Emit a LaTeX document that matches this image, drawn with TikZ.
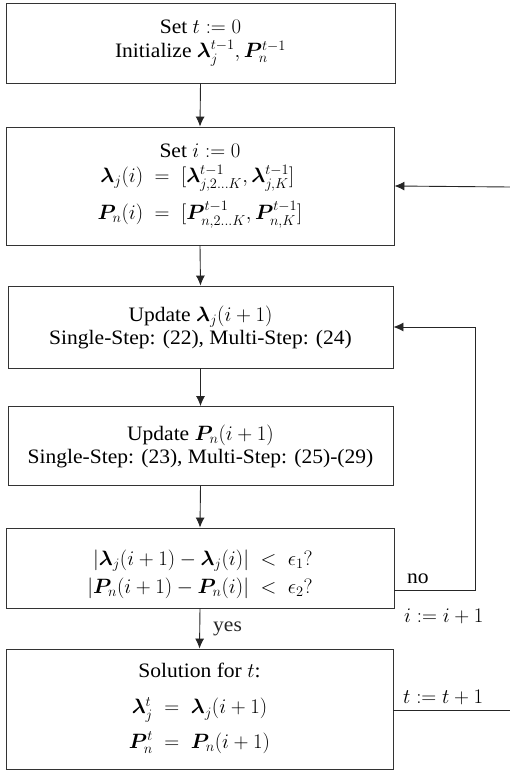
\documentclass[tikz,border=0pt]{standalone}
\usepackage{amsmath,bm}
\usepackage{fontspec}
\setmainfont{Liberation Serif}[FakeStretch=1.05]
\usetikzlibrary{arrows.meta,positioning,calc}
\tikzset{
  fc/box/.style={
    draw=black!80, line width=0.9pt, align=center, inner sep=0pt,
    font=\fontsize{20.5}{23}\selectfont
  },
  fc/arr/.style={-{Latex[length=10pt,width=9pt]}, black!85, line width=0.9pt},
  fc/line/.style={black!85, line width=0.9pt},
  fc/lbl/.style={font=\fontsize{20.5}{23}\selectfont, inner sep=1pt}
}

\begin{document}
\begin{tikzpicture}[x=1pt, y=-1pt]
  \useasboundingbox (0,0) rectangle (510,773);

  % --- Initialisierung ---
  \node[fc/box, minimum width=389pt, minimum height=80pt] (init) at (200.5,43)
    {Set $t:=0$\\[1pt] Initialize $\bm{\lambda}_j^{t-1}, \bm{P}_n^{t-1}$};
  \node[fc/box, minimum width=388pt, minimum height=118pt] (seti) at (200,186) {%
    Set $i:=0$\\[6pt]
    $\begin{array}{r@{\;\;=\;\;}l}
      \bm{\lambda}_j(i) & [\bm{\lambda}^{t-1}_{j,2\ldots K}, \bm{\lambda}^{t-1}_{j,K}]\\[12pt]
      \bm{P}_n(i) & [\bm{P}^{t-1}_{n,2\ldots K}, \bm{P}^{t-1}_{n,K}]
    \end{array}$};

  % --- Update-Schritte ---
  \node[fc/box, minimum width=385pt, minimum height=82pt] (updl) at (200.5,327)
    {Update $\bm{\lambda}_j(i+1)$\\ Single-Step: (22), Multi-Step: (24)};
  \node[fc/box, minimum width=385pt, minimum height=79pt] (updp) at (200.5,446)
    {Update $\bm{P}_n(i+1)$\\ Single-Step: (23), Multi-Step: (25)-(29)};

  % --- Konvergenz ---
  \node[fc/box, minimum width=388pt, minimum height=80pt] (conv) at (200,568) {%
    \raisebox{-7pt}[\height][\depth]{$\begin{array}{r@{\;\;<\;\;}l}
      |\bm{\lambda}_j(i+1)-\bm{\lambda}_j(i)| & \epsilon_1?\\[5pt]
      |\bm{P}_n(i+1)-\bm{P}_n(i)| & \epsilon_2?
    \end{array}$}};
  \node[fc/box, minimum width=387pt, minimum height=120pt] (sol) at (199.5,709) {%
    Solution for $t$:\\[19pt]
    $\begin{array}{r@{\;\;=\;\;}l}
      \bm{\lambda}^t_j & \bm{\lambda}_j(i+1)\\[11pt]
      \bm{P}^t_n & \bm{P}_n(i+1)
    \end{array}$};

  \coordinate (inR) at (510,187);
  \coordinate (outR) at (510,710);
  \coordinate (loopc) at (475,590);

  \draw[fc/arr] (init.south) -- (seti.north);
  \draw[fc/arr] (seti.south) -- (updl.north);
  \draw[fc/arr] (updl.south) -- (updp.north);
  \draw[fc/arr] (updp.south) -- (conv.north);
  \draw[fc/arr] (conv.south) -- node[fc/lbl, right=12pt] {yes} (sol.north);
  \draw[fc/arr] (conv.east |- loopc) -- (loopc) |- (updl.east);
  \draw[fc/arr] (inR) -- (seti.east);
  \draw[fc/line] (sol.east |- outR) -- (outR);

  \node[fc/lbl, anchor=base west] (no) at (406,583) {no};
  \node[fc/lbl, anchor=base west] (inc) at (403,622) {$i:=i+1$};
  \node[fc/lbl, anchor=base west] (tinc) at (402,703) {$t:=t+1$};
\end{tikzpicture}
\end{document}
